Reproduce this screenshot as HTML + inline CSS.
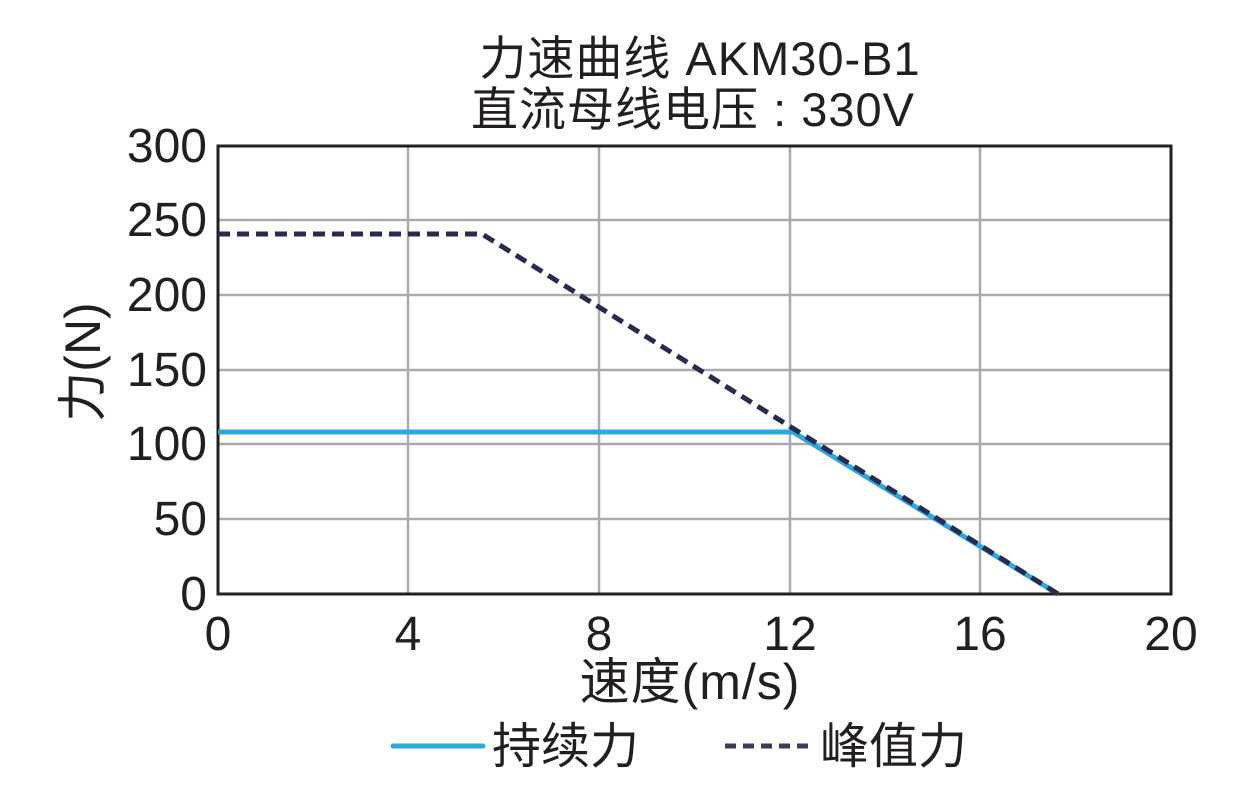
<!DOCTYPE html>
<html><head><meta charset="utf-8"><style>
body{margin:0;background:#fff;}
svg text{font-family:"Liberation Sans","Noto Sans CJK SC",sans-serif;fill:#231f20;}
</style></head><body>
<svg width="1252" height="797" viewBox="0 0 1252 797" xmlns="http://www.w3.org/2000/svg">
<rect width="1252" height="797" fill="#fff"/>
<text x="700" y="75" font-size="47" text-anchor="middle" letter-spacing="1">力速曲线  AKM30-B1</text>
<text x="693" y="126" font-size="47" text-anchor="middle" letter-spacing="1">直流母线电压 : 330V</text>
<g stroke="#aaa" stroke-width="2.5">
<line x1="408" y1="146" x2="408" y2="594"/><line x1="599" y1="146" x2="599" y2="594"/>
<line x1="790" y1="146" x2="790" y2="594"/><line x1="980" y1="146" x2="980" y2="594"/>
<line x1="218" y1="220" x2="1171" y2="220"/><line x1="218" y1="295" x2="1171" y2="295"/>
<line x1="218" y1="370" x2="1171" y2="370"/><line x1="218" y1="444" x2="1171" y2="444"/>
<line x1="218" y1="519" x2="1171" y2="519"/>
</g>
<rect x="218" y="146" width="953" height="448" fill="none" stroke="#231f20" stroke-width="3"/>
<polyline points="218,432 793,432 1058,594" fill="none" stroke="#29a9e0" stroke-width="5"/>
<polyline points="218,234 482,234 1058,594" fill="none" stroke="#272b4f" stroke-width="5" stroke-dasharray="12,7"/>
<g font-size="48" text-anchor="end">
<text x="207" y="162">300</text><text x="207" y="236">250</text><text x="207" y="311">200</text>
<text x="207" y="386">150</text><text x="207" y="460">100</text><text x="207" y="535">50</text>
<text x="207" y="610">0</text>
</g>
<g font-size="48" text-anchor="middle">
<text x="218" y="650">0</text><text x="408" y="650">4</text><text x="599" y="650">8</text>
<text x="790" y="650">12</text><text x="980" y="650">16</text><text x="1171" y="650">20</text>
</g>
<text x="690" y="699" font-size="50" text-anchor="middle" letter-spacing="1">速度(m/s)</text>
<text transform="translate(100,362) rotate(-90)" font-size="50" text-anchor="middle">力(N)</text>
<line x1="393" y1="746" x2="483" y2="746" stroke="#29a9e0" stroke-width="5" stroke-linecap="round"/>
<text x="492" y="763" font-size="49">持续力</text>
<line x1="725" y1="746" x2="810" y2="746" stroke="#3a3a5c" stroke-width="5" stroke-dasharray="11,7"/>
<text x="820" y="763" font-size="49">峰值力</text>
</svg>
</body></html>
